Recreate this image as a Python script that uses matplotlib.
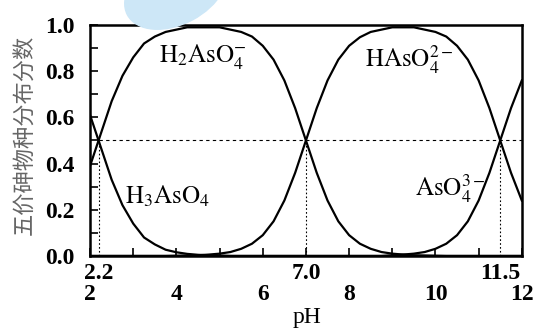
import matplotlib
matplotlib.use("Agg")
from matplotlib import pyplot as plt
from matplotlib.patches import Ellipse

# pH grid and species fractions
ph = [2.0, 2.25, 2.5, 2.75, 3.0, 3.25, 3.5, 3.75, 4.0, 4.25, 4.5, 4.75,
      5.0, 5.25, 5.5, 5.75, 6.0, 6.25, 6.5, 6.75, 7.0, 7.25, 7.5, 7.75,
      8.0, 8.25, 8.5, 8.75, 9.0, 9.25, 9.5, 9.75, 10.0, 10.25, 10.5, 10.75,
      11.0, 11.25, 11.5, 11.75, 12.0]
h3aso4 = [0.61, 0.47, 0.33, 0.22, 0.14, 0.08, 0.05, 0.027, 0.016, 0.009, 0.005, 0.003,
          0.002, 0.0, 0.0, 0.0, 0.0, 0.0, 0.0, 0.0, 0.0, 0.0, 0.0, 0.0,
          0.0, 0.0, 0.0, 0.0, 0.0, 0.0, 0.0, 0.0, 0.0, 0.0, 0.0, 0.0,
          0.0, 0.0, 0.0, 0.0, 0.0]
h2aso4 = [0.39, 0.53, 0.67, 0.78, 0.86, 0.92, 0.95, 0.97, 0.98, 0.99, 0.99, 0.99,
          0.99, 0.98, 0.97, 0.95, 0.91, 0.85, 0.76, 0.64, 0.50, 0.36, 0.24, 0.15,
          0.09, 0.053, 0.031, 0.017, 0.01, 0.006, 0.003, 0.002, 0.001, 0.0, 0.0, 0.0,
          0.0, 0.0, 0.0, 0.0, 0.0]
haso4 = [0.0, 0.0, 0.0, 0.0, 0.0, 0.0, 0.0, 0.0, 0.001, 0.002, 0.003, 0.006,
         0.01, 0.017, 0.031, 0.053, 0.09, 0.15, 0.24, 0.36, 0.50, 0.64, 0.76, 0.85,
         0.91, 0.947, 0.97, 0.98, 0.99, 0.99, 0.99, 0.98, 0.97, 0.95, 0.91, 0.85,
         0.76, 0.64, 0.50, 0.36, 0.24]
aso4 = [0.0, 0.0, 0.0, 0.0, 0.0, 0.0, 0.0, 0.0, 0.0, 0.0, 0.0, 0.0,
        0.0, 0.0, 0.0, 0.0, 0.0, 0.0, 0.0, 0.0, 0.0, 0.0, 0.0, 0.0,
        0.0, 0.0, 0.0, 0.0, 0.003, 0.006, 0.01, 0.017, 0.031, 0.053, 0.09, 0.15,
        0.24, 0.36, 0.50, 0.64, 0.76]

pka = [2.2, 7.0, 11.5]
pka_labels = ["2.2", "7.0", "11.5"]
half = 0.5

species = [r"$\mathrm{H_3AsO_4}$", r"$\mathrm{H_2AsO_4^{-}}$",
           r"$\mathrm{HAsO_4^{2-}}$", r"$\mathrm{AsO_4^{3-}}$"]
label_pos = [(3.8, 0.26), (4.6, 0.86), (9.4, 0.85), (10.35, 0.29)]

plt.rcParams["font.family"] = ["Liberation Serif", "DejaVu Serif"]
plt.rcParams["mathtext.fontset"] = "stix"

fig = plt.figure(figsize=(5.33, 3.29), dpi=100)
ax = fig.add_axes([0.169, 0.222, 0.81, 0.702])

# light blue watermark blob at top (inches)
blob = Ellipse((1.76, 3.40), 1.1, 0.7, angle=28, transform=fig.dpi_scale_trans,
               color="#cde7f7", zorder=0)
fig.patches.append(blob)

for ys in (h3aso4, h2aso4, haso4, aso4):
    ax.plot(ph, ys, color="black", lw=1.6)

ax.plot([pka[0], 12], [half, half], color="black", lw=0.8, linestyle=(0, (3, 3)))
for p in pka:
    ax.plot([p, p], [0, half], color="black", lw=0.8, linestyle=(0, (1.5, 2)))

for s, (x, y) in zip(species, label_pos):
    ax.text(x, y, s, fontsize=18, ha="center", va="center")

ax.set_xlim(2, 12)
ax.set_ylim(0, 1.0)
ax.set_xticks(range(2, 13))
ax.set_xticklabels([str(i) if i % 2 == 0 else "" for i in range(2, 13)])
ax.set_yticks([0, 0.2, 0.4, 0.6, 0.8, 1.0])
ax.set_yticklabels(["0.0", "0.2", "0.4", "0.6", "0.8", "1.0"])
ax.set_yticks([0.1, 0.3, 0.5, 0.7, 0.9], minor=True)
ax.tick_params(direction="in", length=6, width=1.2, labelsize=17)
ax.tick_params(axis="x", pad=20)
ax.tick_params(axis="y", pad=11)
ax.tick_params(which="minor", direction="in", length=6, width=1.2)
for lab in ax.get_xticklabels() + ax.get_yticklabels():
    lab.set_fontweight("bold")
for sp in ax.spines.values():
    sp.set_linewidth(1.8)

for p, t in zip(pka, pka_labels):
    ax.text(p, -0.03, t, transform=ax.get_xaxis_transform(), fontsize=17,
            ha="center", va="top", weight="bold")

fig.text(0.576, 1 - 318 / 329, "pH", fontsize=17, ha="center", va="center")
fig.text(0.047, 0.59, "五价砷物种分布分数", rotation=90, fontsize=16,
         color="#666666", ha="center", va="center",
         family=["Noto Sans CJK SC", "DejaVu Sans"])

fig.savefig("out.png", dpi=100)
